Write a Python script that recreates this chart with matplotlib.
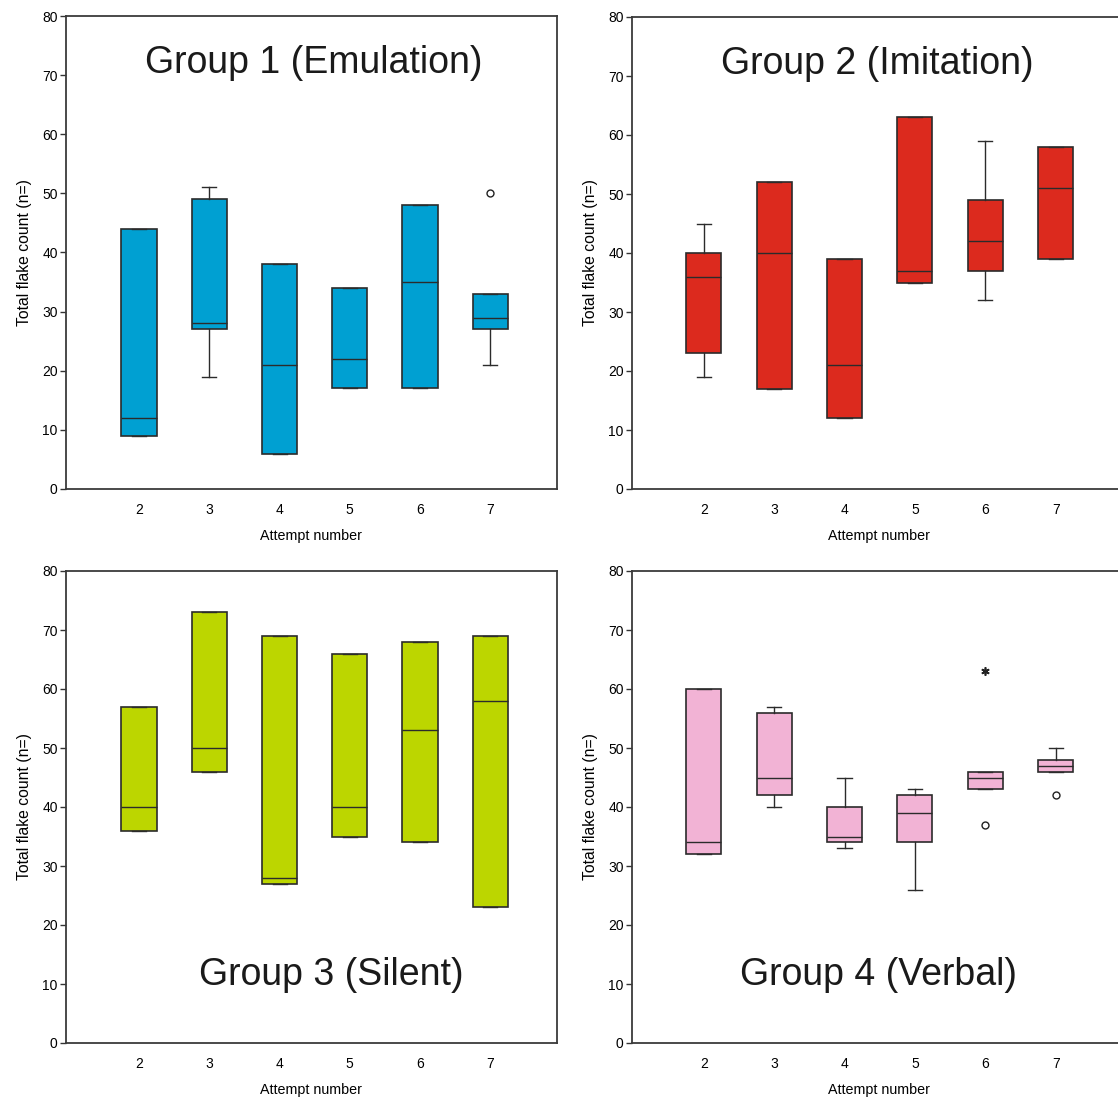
import matplotlib
matplotlib.use("Agg")
import matplotlib.pyplot as plt

plt.rcParams['font.family'] = ['Liberation Sans', 'DejaVu Sans']

attempts = [2, 3, 4, 5, 6, 7]

# Group 1 (Emulation)
g1_q1 = [9, 27, 6, 17, 17, 27]
g1_med = [12, 28, 21, 22, 35, 29]
g1_q3 = [44, 49, 38, 34, 48, 33]
g1_wlo = [9, 19, 6, 17, 17, 21]
g1_whi = [44, 51, 38, 34, 48, 33]
g1_circ = [[], [], [], [], [], [50]]
g1_star = [[], [], [], [], [], []]

# Group 2 (Imitation)
g2_q1 = [23, 17, 12, 35, 37, 39]
g2_med = [36, 40, 21, 37, 42, 51]
g2_q3 = [40, 52, 39, 63, 49, 58]
g2_wlo = [19, 17, 12, 35, 32, 39]
g2_whi = [45, 52, 39, 63, 59, 58]
g2_circ = [[], [], [], [], [], []]
g2_star = [[], [], [], [], [], []]

# Group 3 (Silent)
g3_q1 = [36, 46, 27, 35, 34, 23]
g3_med = [40, 50, 28, 40, 53, 58]
g3_q3 = [57, 73, 69, 66, 68, 69]
g3_wlo = [36, 46, 27, 35, 34, 23]
g3_whi = [57, 73, 69, 66, 68, 69]
g3_circ = [[], [], [], [], [], []]
g3_star = [[], [], [], [], [], []]

# Group 4 (Verbal)
g4_q1 = [32, 42, 34, 34, 43, 46]
g4_med = [34, 45, 35, 39, 45, 47]
g4_q3 = [60, 56, 40, 42, 46, 48]
g4_wlo = [32, 40, 33, 26, 43, 46]
g4_whi = [60, 57, 45, 43, 46, 50]
g4_circ = [[], [], [], [], [37], [42]]
g4_star = [[], [], [], [], [63], []]

titles = ["Group 1 (Emulation)", "Group 2 (Imitation)",
          "Group 3 (Silent)", "Group 4 (Verbal)"]
colors = ["#00A0D2", "#DC2A1E", "#BCD600", "#F2B3D5"]

groups = [
    (g1_q1, g1_med, g1_q3, g1_wlo, g1_whi, g1_circ, g1_star),
    (g2_q1, g2_med, g2_q3, g2_wlo, g2_whi, g2_circ, g2_star),
    (g3_q1, g3_med, g3_q3, g3_wlo, g3_whi, g3_circ, g3_star),
    (g4_q1, g4_med, g4_q3, g4_wlo, g4_whi, g4_circ, g4_star),
]

W, H = 1118, 1097
fig = plt.figure(figsize=(W / 100, H / 100), dpi=100)

# axes rectangles in pixels: left, top(80), right, bottom(0)
rects = [(66, 16, 557, 489), (632, 17, 1126, 489),
         (66, 571, 557, 1043), (632, 571, 1126, 1043)]
xlims = [(0.96, 7.95), (0.98, 8.0), (0.96, 7.95), (0.98, 8.0)]
title_pos = [(4.48, 72), (4.47, 72), (4.73, 11.5), (4.49, 11.5)]

edge = "#2b2b2b"
for i, (grp, title, col) in enumerate(zip(groups, titles, colors)):
    l, t, r, b = rects[i]
    ax = fig.add_axes([l / W, 1 - b / H, (r - l) / W, (b - t) / H])
    q1, med, q3, wlo, whi, circ, star = grp
    stats = []
    for k in range(len(attempts)):
        stats.append(dict(q1=q1[k], med=med[k], q3=q3[k],
                          whislo=wlo[k], whishi=whi[k], fliers=[]))
    ax.bxp(stats, positions=attempts, widths=0.5, patch_artist=True,
           showfliers=False, capwidths=0.2,
           boxprops=dict(facecolor=col, edgecolor=edge, linewidth=1.2),
           medianprops=dict(color=edge, linewidth=1.0),
           whiskerprops=dict(color=edge, linewidth=1.0),
           capprops=dict(color=edge, linewidth=1.0))
    for k, x in enumerate(attempts):
        if circ[k]:
            ax.plot([x] * len(circ[k]), circ[k], 'o', ms=5, mfc='white',
                    mec='#222222', mew=1.0, linestyle='none')
        if star[k]:
            ax.plot([x] * len(star[k]), star[k], marker=(6, 2, 0), ms=6,
                    color='#222222', mew=1.2, linestyle='none')
    ax.set_xlim(*xlims[i])
    ax.set_ylim(0, 80)
    ax.set_yticks(range(0, 81, 10))
    ax.set_xticks(attempts)
    ax.set_xticklabels([str(a) for a in attempts])
    ax.tick_params(axis='y', length=4, width=1, color='#333333',
                   labelsize=10, pad=2)
    ax.tick_params(axis='x', length=0, labelsize=10, pad=10)
    for s in ax.spines.values():
        s.set_color('#3a3a3a')
        s.set_linewidth(1.3)
    ax.set_xlabel("Attempt number", fontsize=10.3, labelpad=9)
    ax.set_ylabel("Total flake count (n=)", fontsize=11.3, labelpad=7)
    ax.text(title_pos[i][0], title_pos[i][1], title, fontsize=27,
            ha='center', va='center', color='#1a1a1a')

fig.savefig("out.png", dpi=100)
